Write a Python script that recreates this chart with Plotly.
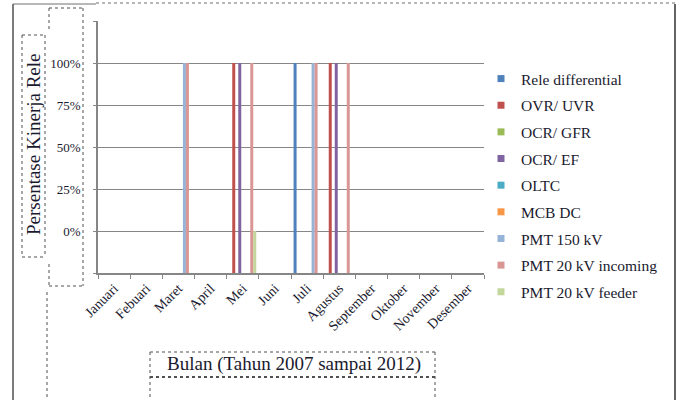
import plotly.graph_objects as go

W, H = 681, 400

months = ["Januari", "Febuari", "Maret", "April", "Mei", "Juni", "Juli",
          "Agustus", "September", "Oktober", "November", "Desember"]

series_names = ["Rele differential", "OVR/ UVR", "OCR/ GFR", "OCR/ EF", "OLTC",
                "MCB DC", "PMT 150 kV", "PMT 20 kV incoming", "PMT 20 kV feeder"]

N = None
rele_differential = [N, N, N, N, N, N, 100, N, N, N, N, N]
ovr_uvr = [N, N, N, N, 100, N, N, 100, N, N, N, N]
ocr_gfr = [N, N, N, N, N, N, N, N, N, N, N, N]
ocr_ef = [N, N, N, N, 100, N, N, 100, N, N, N, N]
oltc = [N, N, N, N, N, N, N, N, N, N, N, N]
mcb_dc = [N, N, N, N, N, N, N, N, N, N, N, N]
pmt_150 = [N, N, 100, N, N, N, 100, N, N, N, N, N]
pmt_20_incoming = [N, N, 100, N, 100, N, 100, 100, N, N, N, N]
pmt_20_feeder = [N, N, N, N, 0, N, N, N, N, N, N, N]

series_values = [rele_differential, ovr_uvr, ocr_gfr, ocr_ef, oltc, mcb_dc,
                 pmt_150, pmt_20_incoming, pmt_20_feeder]

y_tickvals = [-25, 0, 25, 50, 75, 100, 125]
y_ticktext = ["", "0%", "25%", "50%", "75%", "100%", ""]

colors = ["#4F81BD", "#C0504D", "#9BBB59", "#8064A2", "#4BACC6",
          "#F79646", "#95B3D7", "#D99694", "#C3D69B"]

AXIS_BASE = -25  # bottom of value axis
group_w = 0.84
bar_w = group_w / len(series_names)

fig = go.Figure()
for i, (name, vals) in enumerate(zip(series_names, series_values)):
    fig.add_trace(go.Bar(
        x=months,
        y=[None if v is None else v - AXIS_BASE for v in vals],
        base=AXIS_BASE,
        name=name,
        marker=dict(color=colors[i], line=dict(width=0)),
        width=bar_w,
        offset=-group_w / 2 + i * bar_w,
        legendgroup=name,
        showlegend=False,
        hovertemplate=name + ": %{x}<extra></extra>",
    ))
    # legend entry with a small square swatch
    fig.add_trace(go.Scatter(
        x=[None], y=[None], mode="markers", name=name, legendgroup=name,
        marker=dict(symbol="square", size=7, color=colors[i]),
        showlegend=True, hoverinfo="skip",
    ))

def px(x):
    return x / W

def py(y):
    return 1 - y / H

FONT = "Liberation Serif, Times New Roman, serif"
TXT = "#1a1a2e"

shapes = []
def line(x0, y0, x1, y1, color="#404040", width=1, dash="solid"):
    shapes.append(dict(type="line", xref="paper", yref="paper",
                       x0=px(x0), y0=py(y0), x1=px(x1), y1=py(y1),
                       line=dict(color=color, width=width, dash=dash)))

# outer chart frame
line(13, 4, 13, 400, "#505050", 1.5)
line(675, 4, 675, 400, "#303030", 1.5)
line(13, 4, 96, 4, "#707070", 1)
line(96, 3, 675, 3, "#707070", 1, "dot")
# y title dotted box
line(22, 35, 45, 35, "#505050", 1, "dot")
line(22, 35, 22, 257, "#505050", 1, "dot")
line(22, 257, 45, 257, "#505050", 1, "dot")
line(45, 35, 45, 257, "#505050", 1, "dot")
# tick label dotted box
line(49, 8, 83, 8, "#505050", 1, "dot")
line(83, 8, 83, 286, "#505050", 1, "dot")
line(49, 286, 83, 286, "#505050", 1, "dot")
line(49, 8, 49, 30, "#505050", 1, "dot")
line(49, 264, 49, 286, "#505050", 1, "dot")
line(47, 292, 47, 400, "#505050", 1, "dot")
# x title dotted boxes
line(150, 352, 435, 352, "#505050", 1, "dot")
line(150, 352, 150, 400, "#505050", 1, "dot")
line(435, 352, 435, 400, "#505050", 1, "dot")
line(150, 377, 435, 377, "#505050", 2, "dot")

fig.update_layout(
    width=W, height=H,
    margin=dict(l=0, r=0, t=0, b=0, autoexpand=False),
    paper_bgcolor="white", plot_bgcolor="white",
    barmode="overlay",
    font=dict(family=FONT, color=TXT, size=13),
    shapes=shapes,
    showlegend=True,
    legend=dict(x=px(481), y=py(62), xanchor="left", yanchor="top",
                font=dict(family=FONT, size=15.5, color=TXT),
                tracegroupgap=3.5, bgcolor="rgba(0,0,0,0)",
                itemclick=False, itemdoubleclick=False),
    annotations=[
        dict(text="Persentase Kinerja Rele", xref="paper", yref="paper",
             x=px(33), y=py(145), textangle=-90, showarrow=False,
             font=dict(family=FONT, size=19, color=TXT),
             xanchor="center", yanchor="middle"),
        dict(text="Bulan (Tahun 2007 sampai 2012)", xref="paper", yref="paper",
             x=px(294), y=py(364), showarrow=False,
             font=dict(family=FONT, size=19, color=TXT),
             xanchor="center", yanchor="middle"),
    ],
)

fig.update_xaxes(
    domain=[px(98), px(484)],
    automargin=False,
    type="category",
    categoryorder="array", categoryarray=months,
    tickson="boundaries",
    ticks="outside", ticklen=4, tickcolor="#868686",
    showline=True, linecolor="#868686", linewidth=1.5,
    showgrid=False,
    tickangle=-45,
    tickfont=dict(family=FONT, size=14, color=TXT),
    range=[-0.5, 11.5],
)
fig.update_yaxes(
    domain=[py(273), py(21)],
    automargin=False,
    range=[-25, 125],
    tickvals=y_tickvals, ticktext=y_ticktext,
    ticks="outside", ticklen=3, tickcolor="#868686",
    showline=True, linecolor="#868686", linewidth=1.5,
    showgrid=True, gridcolor="#868686", gridwidth=1,
    zeroline=False,
    tickfont=dict(family=FONT, size=13, color=TXT),
    ticklabelstandoff=10,
)

fig.write_html("out.html", config={"displayModeBar": False},
               post_script="document.body.style.margin='0';")
